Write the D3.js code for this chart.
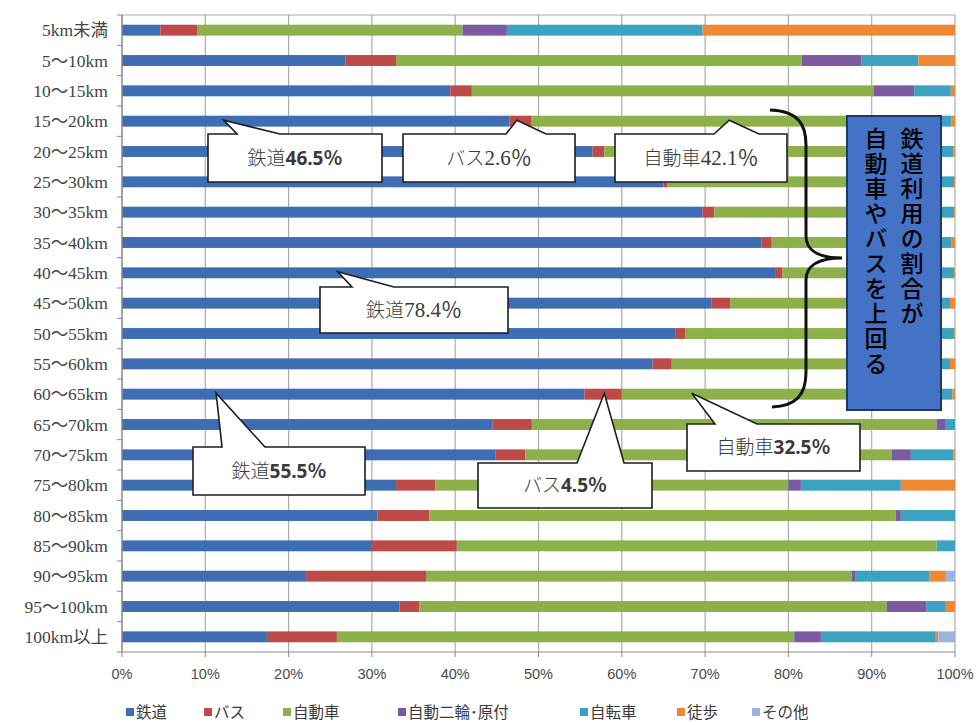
<!DOCTYPE html>
<html><head><meta charset="utf-8">
<script src="https://cdn.jsdelivr.net/npm/d3@7"></script>
<style>
html,body{margin:0;padding:0;background:#fff;}
svg{display:block;}
</style></head>
<body>
<svg id="c" width="979" height="725"></svg>
<script>
const categories = ["5km未満","5〜10km","10〜15km","15〜20km","20〜25km","25〜30km","30〜35km","35〜40km","40〜45km","45〜50km","50〜55km","55〜60km","60〜65km","65〜70km","70〜75km","75〜80km","80〜85km","85〜90km","90〜95km","95〜100km","100km以上"];
const seriesNames = ["鉄道","バス","自動車","自動二輪･原付","自転車","徒歩","その他"];
const rail  = [4.6,26.8,39.4,46.5,56.5,65.0,69.7,76.8,78.4,70.8,66.4,63.7,55.5,44.5,44.8,32.9,30.7,29.9,22.1,33.3,17.4];
const bus   = [4.4,6.1,2.6,2.6,1.4,0.5,1.4,1.2,0.9,2.2,1.2,2.3,4.5,4.7,3.6,4.7,6.2,10.3,14.4,2.4,8.4];
const car   = [31.9,48.7,48.2,42.1,39.1,31.9,26.7,19.7,18.7,24.3,30.3,31.6,32.5,48.6,44.0,42.4,56.0,57.6,51.1,56.1,54.9];
const moto  = [5.3,7.2,4.9,3.6,0.8,0.7,0.5,0.4,0.4,0.5,0.4,0.3,3.0,1.0,2.3,1.5,0.6,0,0.4,4.8,3.2];
const bike  = [23.5,6.8,4.4,4.8,2.0,1.8,1.6,1.5,1.5,1.6,1.6,1.5,4.2,1.2,5.1,12.0,6.5,2.2,8.9,2.3,13.7];
const walk  = [30.3,4.4,0.5,0.4,0.2,0.1,0.1,0.4,0.1,0.6,0.1,0.6,0.3,0,0.2,6.5,0,0,2.0,1.1,0.4];
const other = [0,0,0,0,0,0,0,0,0,0,0,0,0,0,0,0,0,0,1.1,0,2.0];
const xTicks = [0,10,20,30,40,50,60,70,80,90,100];
const xTickLabels = ["0%","10%","20%","30%","40%","50%","60%","70%","80%","90%","100%"];
const calloutTexts = [
  ["鉄道","46.5％"],["バス","2.6％"],["自動車","42.1％"],
  ["鉄道","78.4％"],["鉄道","55.5％"],["バス","4.5％"],["自動車","32.5％"]
];
const noteCol1 = "鉄道利用の割合が";
const noteCol2 = "自動車やバスを上回る";

const colors = ["#3E6DB3","#BE4A47","#8DB04B","#7A5AA0","#3CA2C2","#EE8834","#9DB3DE"];
const seriesData = [rail,bus,car,moto,bike,walk,other];

const svg = d3.select("#c");
const L = 122, R = 955, T = 15, B = 652;
const x = d3.scaleLinear().domain([0,100]).range([L,R]);
const y = d3.scaleBand().domain(categories).range([T,B]).paddingInner(0.64).paddingOuter(0.32);
const step = y.step();

const rows = categories.map((c,i)=>{ const o={cat:c}; seriesNames.forEach((s,k)=>o[s]=seriesData[k][i]); return o; });
const stacked = d3.stack().keys(seriesNames)(rows);

// gridlines
svg.append("g").selectAll("line").data(xTicks).join("line")
  .attr("x1",d=>x(d)).attr("x2",d=>x(d)).attr("y1",T).attr("y2",B)
  .attr("stroke","#ababab").attr("stroke-width",1.2);
svg.append("line").attr("x1",L).attr("x2",R).attr("y1",T).attr("y2",T).attr("stroke","#ababab").attr("stroke-width",1.2);

// bars
svg.append("g").selectAll("g").data(stacked).join("g")
  .attr("fill",(d,i)=>colors[i])
  .selectAll("rect").data(d=>d).join("rect")
  .attr("x",d=>x(d[0])).attr("width",d=>Math.max(0,x(d[1])-x(d[0])))
  .attr("y",d=>y(d.data.cat)).attr("height",y.bandwidth());

// left axis
const ya = svg.append("g");
ya.append("line").attr("x1",L).attr("x2",L).attr("y1",T).attr("y2",B).attr("stroke","#8a8a8a").attr("stroke-width",1.2);
ya.selectAll("line.t").data(d3.range(categories.length+1)).join("line").attr("class","t")
  .attr("x1",L-5).attr("x2",L).attr("y1",i=>T+i*step).attr("y2",i=>T+i*step).attr("stroke","#8a8a8a");
ya.selectAll("text").data(categories).join("text")
  .attr("x",108).attr("y",d=>y(d)+y.bandwidth()/2).attr("dy","0.36em")
  .attr("text-anchor","end").attr("fill","#444")
  .style("font-family","'Liberation Serif','Noto Sans CJK JP',serif").style("font-size","17.5px")
  .text(d=>d);

// bottom axis
const xa = svg.append("g");
xa.append("line").attr("x1",L).attr("x2",R).attr("y1",B).attr("y2",B).attr("stroke","#8a8a8a").attr("stroke-width",1.2);
xa.selectAll("line.t").data(xTicks).join("line").attr("class","t")
  .attr("x1",d=>x(d)).attr("x2",d=>x(d)).attr("y1",B).attr("y2",B+5).attr("stroke","#8a8a8a");
xa.selectAll("text").data(xTicks).join("text")
  .attr("x",d=>x(d)).attr("y",679).attr("text-anchor","middle").attr("fill","#4a4a4a")
  .style("font-family","'Liberation Sans Narrow','Liberation Sans',sans-serif").style("font-size","14.5px")
  .text((d,i)=>xTickLabels[i]);

// legend
const legX = [126,204,283,398,580,677,752];
const lg = svg.append("g").selectAll("g").data(seriesNames).join("g")
  .attr("transform",(d,i)=>`translate(${legX[i]},712)`);
lg.append("rect").attr("x",0).attr("y",-4).attr("width",8).attr("height",8).attr("fill",(d,i)=>colors[i]);
lg.append("text").attr("x",10).attr("y",0).attr("dy","0.36em").attr("fill","#3a3a3a")
  .style("font-family","'Noto Sans CJK JP',sans-serif").style("font-size","15.5px").text(d=>d);

// callouts: box geometry + tip anchored to data via scales
const callouts = [
  {box:[208,134,382,182], base:[237,280], tipX:12.2, row:3, bold:true},
  {box:[403,134,575,182], base:[506,546], tipX:47.4, row:3, bold:false},
  {box:[615,134,787,182], base:[714,759], tipX:72.9, row:3, bold:false},
  {box:[320,287,508,333], base:[352,394], tipX:25.9, row:8, bold:false},
  {box:[193,447,365,495], base:[222,265], tipX:11.3, row:12, bold:true},
  {box:[478,463,652,508], base:[577,624], tipX:57.9, row:12, bold:true},
  {box:[687,424,860,471], base:[715,757], tipX:68.4, row:12, bold:true}
];
const cg = svg.append("g");
callouts.forEach((c,i)=>{
  const [x0,y0,x1,y1] = c.box;
  const tx = x(c.tipX), ty = y(categories[c.row]) + y.bandwidth()/2 - 1;
  const p = d3.path();
  p.moveTo(x0,y0); p.lineTo(c.base[0],y0); p.lineTo(tx,ty); p.lineTo(c.base[1],y0);
  p.lineTo(x1,y0); p.lineTo(x1,y1); p.lineTo(x0,y1); p.closePath();
  cg.append("path").attr("d",p.toString()).attr("fill","#fff").attr("stroke","#1e1e1e").attr("stroke-width",1.6).attr("stroke-linejoin","miter");
  const t = cg.append("text").attr("x",(x0+x1)/2).attr("y",(y0+y1)/2).attr("dy","0.36em")
    .attr("text-anchor","middle").attr("fill","#3a3a3a").style("font-size","19px");
  t.append("tspan").style("font-family","'Noto Sans CJK JP',sans-serif").style("font-weight","300").text(calloutTexts[i][0]);
  t.append("tspan")
    .style("font-family", c.bold ? "'Noto Sans','Noto Sans CJK JP',sans-serif" : "'Liberation Serif','Noto Sans CJK JP',serif")
    .style("font-weight", c.bold ? "bold" : "normal")
    .style("font-size", c.bold ? "19px" : "21px")
    .text(calloutTexts[i][1]);
});

// brace
const br = d3.path();
br.moveTo(770,110);
br.bezierCurveTo(798,111,806,124,806,145);
br.lineTo(806,236);
br.bezierCurveTo(806,250,818,258,842,258);
br.bezierCurveTo(818,258,806,266,806,280);
br.lineTo(806,372);
br.bezierCurveTo(806,395,796,406,772,407);
svg.append("path").attr("d",br.toString()).attr("fill","none").attr("stroke","#111").attr("stroke-width",3);

// note box
svg.append("rect").attr("x",847).attr("y",116).attr("width",94).attr("height",294)
  .attr("fill","#4472C4").attr("stroke","#1F3864").attr("stroke-width",2);
const noteStyle = sel => sel.attr("fill","#000")
  .style("font-family","'Noto Sans CJK JP',sans-serif").style("font-size","23px").style("font-weight","500")
  .style("writing-mode","vertical-rl").style("letter-spacing","2px");
svg.append("text").attr("x",912).attr("y",127).call(noteStyle).text(noteCol1);
svg.append("text").attr("x",876).attr("y",127).call(noteStyle).text(noteCol2);
</script>
</body></html>
